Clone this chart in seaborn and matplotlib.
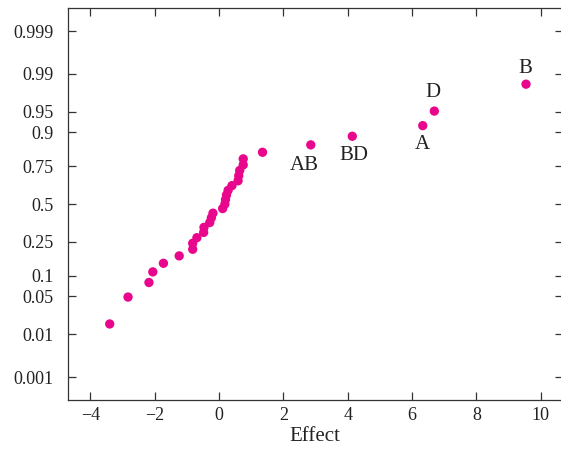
import matplotlib
matplotlib.use("Agg")
import matplotlib.pyplot as plt
import seaborn as sns
import pandas as pd
from statistics import NormalDist

# Effect estimates (sorted ascending)
effects = [-3.40, -2.83, -2.18, -2.06, -1.73, -1.24, -0.82, -0.82, -0.69,
           -0.48, -0.47, -0.29, -0.24, -0.19, 0.11, 0.18, 0.20, 0.23, 0.28,
           0.40, 0.59, 0.61, 0.64, 0.75, 0.75, 1.35, 2.85, 4.14, 6.33, 6.69, 9.54]
labels = [""] * 26 + ["AB", "BD", "A", "D", "B"]
label_offsets = {"AB": (-6, -21), "BD": (2, -19), "A": (0, -19),
                 "D": (-1, 19), "B": (-1, 16)}
prob_ticks = [0.001, 0.01, 0.05, 0.1, 0.25, 0.5, 0.75, 0.9, 0.95, 0.99, 0.999]
prob_tick_labels = ["0.001", "0.01", "0.05", "0.1", "0.25", "0.5", "0.75",
                    "0.9", "0.95", "0.99", "0.999"]
x_ticks = [-4, -2, 0, 2, 4, 6, 8, 10]

nd = NormalDist()
n = len(effects)
df = pd.DataFrame({
    "Effect": effects,
    "z": [nd.inv_cdf((i + 0.5) / n) for i in range(n)],  # normal plotting positions
    "label": labels,
})

sns.set_theme(style="ticks")
plt.rcParams["font.family"] = ["Liberation Serif", "DejaVu Serif"]
plt.rcParams["axes.edgecolor"] = "#333333"
plt.rcParams["xtick.color"] = "#333333"
plt.rcParams["ytick.color"] = "#333333"

fig = plt.figure(figsize=(5.61, 4.5), dpi=100)
ax = fig.add_axes([0.121, 0.111, 0.882, 0.871])

color = "#E8078C"
sns.scatterplot(data=df, x="Effect", y="z", ax=ax, color=color, s=45,
                edgecolor="none", legend=False, zorder=3)

for _, r in df.iterrows():
    if r["label"]:
        dx, dy = label_offsets[r["label"]]
        ax.annotate(r["label"], (r["Effect"], r["z"]), xytext=(dx * 0.72, dy * 0.72),
                    textcoords="offset points", ha="center", va="center",
                    fontsize=15, color="#222222")

ax.set_xlim(-4.7, 10.68)
ax.set_ylim(-3.5, 3.5)
ax.set_xticks(x_ticks)
ax.set_yticks([nd.inv_cdf(p) for p in prob_ticks])
ax.set_yticklabels(prob_tick_labels)
ax.tick_params(direction="in", length=6, width=0.9, labelsize=13,
               top=True, right=True, labelcolor="#222222")
ax.tick_params(axis="y", pad=10)
ax.tick_params(axis="x", pad=5)
for s in ax.spines.values():
    s.set_linewidth(0.9)
    s.set_visible(True)
ax.set_xlabel("Effect", fontsize=15, color="#222222", labelpad=2)
ax.set_ylabel("")

fig.savefig("out.png", dpi=100)
